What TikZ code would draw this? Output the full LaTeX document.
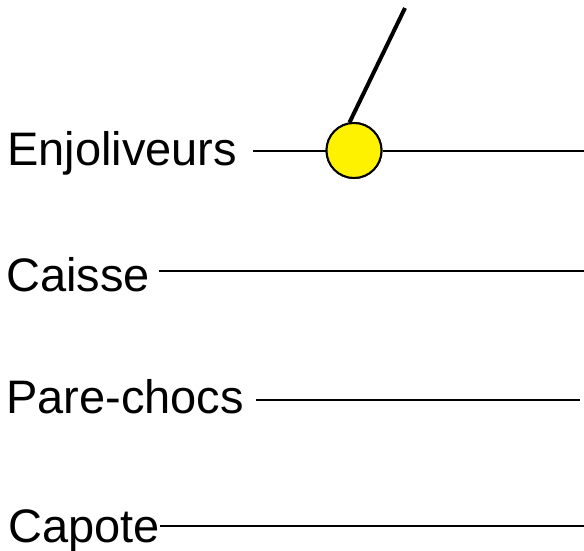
\documentclass[tikz,border=0pt]{standalone}
\usepackage{fontspec}
\setmainfont{Liberation Sans}
\begin{document}
\begin{tikzpicture}[x=1pt,y=-1pt,
  label/.style={anchor=base west, inner sep=0pt, font=\fontsize{47}{56}\selectfont},
  wire/.style={line width=2pt},
  hubstyle/.style={circle, draw, fill=yellow, line width=2pt, minimum size=55pt, inner sep=0pt}]
\useasboundingbox (0,0) rectangle (584,551);

% labels
\node[label] (enj) at (7,165) {Enjoliveurs};
\node[label] (cai) at (6,291) {Caisse};
\node[label] (par) at (6,413) {Pare-chocs};
\node[label] (cap) at (8,542) {Capote};

% line end points
\coordinate (enjA) at (253,150.5);
\coordinate (enjB) at (584,150.5);
\coordinate (caiA) at (159,271);
\coordinate (caiB) at (584,271);
\coordinate (parA) at (256,400);
\coordinate (parB) at (580,400);
\coordinate (capA) at (160,526);
\coordinate (capB) at (584,526);
\coordinate (tip) at (405,8);

% hub on the first line, with its stem
\node[hubstyle] (hub) at (354,150.5) {};
\draw[line width=4pt] (hub.99) -- (tip);
\node[hubstyle] at (hub) {};

\draw[wire] (enjA) -- (hub.west);
\draw[wire] (hub.east) -- (enjB);
\draw[wire] (caiA) -- (caiB);
\draw[wire] (parA) -- (parB);
\draw[wire] (capA) -- (capB);
\end{tikzpicture}
\end{document}
